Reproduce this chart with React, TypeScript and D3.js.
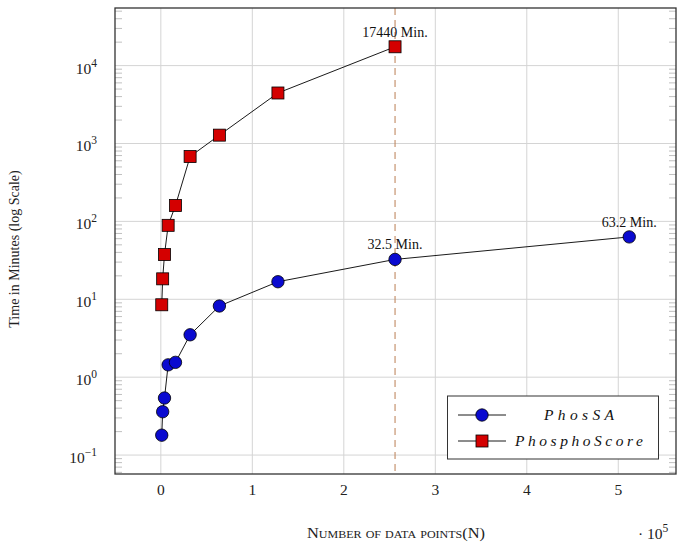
import React from 'react';
import * as d3 from 'd3';

// Data: number of data points (N) and run time in minutes
const nPoints = [1000, 2000, 4000, 8000, 16000, 32000, 64000, 128000, 256000, 512000];
const phosSATimes = [0.18, 0.36, 0.54, 1.44, 1.55, 3.5, 8.2, 16.8, 32.5, 63.2];
const phosphoScoreTimes = [8.5, 18.3, 37.5, 89, 160, 680, 1280, 4450, 17440];
const xTickValues = [0, 1, 2, 3, 4, 5];
const yTickExponents = [-1, 0, 1, 2, 3, 4];
const annotations = [
  { series: 'score', index: 8, label: '17440 Min.' },
  { series: 'sa', index: 8, label: '32.5 Min.' },
  { series: 'sa', index: 9, label: '63.2 Min.' },
];
const markerLine = 256000;
const legendLabels = ['PhosSA', 'PhosphoScore'];

const W = 685;
const H = 547;
const L = 115, R = 676, T = 8, B = 474;
const BLUE = '#0a0ad0';
const RED = '#d40000';
const GRID = '#d4d4d4';
const SERIF = '"Liberation Serif", "DejaVu Serif", serif';

export default function App() {
  const x = d3.scaleLinear().domain([-0.501, 5.631]).range([L, R]);
  const y = d3.scaleLog().domain([Math.pow(10, -1.243), Math.pow(10, 4.7395)]).range([B, T]);
  const xs = (n: number) => x(n / 1e5);

  const saPts = phosSATimes.map((v, i) => [xs(nPoints[i]), y(v)] as [number, number]);
  const scPts = phosphoScoreTimes.map((v, i) => [xs(nPoints[i]), y(v)] as [number, number]);
  const line = d3.line();

  const minor: number[] = [];
  for (let e = -2; e <= 4; e++) {
    for (let k = 2; k <= 9; k++) {
      const v = k * Math.pow(10, e);
      const py = y(v);
      if (py > T + 0.5 && py < B - 0.5) minor.push(py);
    }
  }

  const square = (cx: number, cy: number, key: string | number) => (
    <rect key={key} x={cx - 6} y={cy - 6} width={12} height={12} fill={RED} stroke="#000" strokeWidth={0.8} />
  );
  const circle = (cx: number, cy: number, key: string | number) => (
    <circle key={key} cx={cx} cy={cy} r={6.2} fill={BLUE} stroke="#000" strokeWidth={0.8} />
  );

  const lx = 447.5, ly = 396, lw = 211, lh = 63;

  return (
    <svg width={W} height={H} style={{ position: 'absolute', left: 0, top: 0, background: '#fff' }} fontFamily={SERIF}>
      {/* grid */}
      {xTickValues.map((t) => (
        <line key={'gx' + t} x1={x(t)} x2={x(t)} y1={T} y2={B} stroke={GRID} strokeWidth={1} />
      ))}
      {yTickExponents.map((e) => (
        <line key={'gy' + e} x1={L} x2={R} y1={y(Math.pow(10, e))} y2={y(Math.pow(10, e))} stroke={GRID} strokeWidth={1} />
      ))}
      {/* minor ticks */}
      {minor.map((py, i) => (
        <g key={'m' + i}>
          <line x1={L} x2={L + 7} y1={py} y2={py} stroke="#b0b0b0" strokeWidth={0.8} />
          <line x1={R - 7} x2={R} y1={py} y2={py} stroke="#b0b0b0" strokeWidth={0.8} />
        </g>
      ))}
      {/* dashed marker line */}
      <line x1={xs(markerLine)} x2={xs(markerLine)} y1={T} y2={B} stroke="#c08a62" strokeWidth={1.1} strokeDasharray="7,5" />
      {/* series lines */}
      <path d={line(scPts) || ''} fill="none" stroke="#000" strokeWidth={0.9} />
      <path d={line(saPts) || ''} fill="none" stroke="#000" strokeWidth={0.9} />
      {scPts.map((p, i) => square(p[0], p[1], 's' + i))}
      {saPts.map((p, i) => circle(p[0], p[1], 'c' + i))}
      {/* annotations */}
      {annotations.map((a, i) => {
        const p = a.series === 'score' ? scPts[a.index] : saPts[a.index];
        return (
          <text key={'a' + i} x={p[0]} y={p[1] - 10} textAnchor="middle" fontSize={14} fill="#111">
            {a.label}
          </text>
        );
      })}
      {/* frame */}
      <rect x={L} y={T} width={R - L} height={B - T} fill="none" stroke="#333" strokeWidth={1.3} />
      {/* x tick labels */}
      {xTickValues.map((t) => (
        <text key={'xt' + t} x={x(t)} y={495} textAnchor="middle" fontSize={15.5} fill="#222">{t}</text>
      ))}
      {/* y tick labels */}
      {yTickExponents.map((e) => (
        <text key={'yt' + e} x={97} y={y(Math.pow(10, e)) + 8} textAnchor="end" fontSize={15.5} fill="#222">
          10<tspan fontSize={11.5} dy={-7}>{e < 0 ? '\u2212' + Math.abs(e) : String(e)}</tspan>
        </text>
      ))}
      {/* axis titles */}
      <text x={396} y={538} textAnchor="middle" fontSize={15} fontVariant="small-caps" fill="#222"
        textLength={178} lengthAdjust="spacingAndGlyphs">
        Number of data points(N)
      </text>
      <text x={638} y={539} fontSize={15.5} fill="#222">
        {'\u00b7 10'}<tspan fontSize={11.5} dy={-7}>5</tspan>
      </text>
      <text transform={`translate(19,${(T + B) / 2 + 8}) rotate(-90)`} textAnchor="middle" fontSize={14} fill="#222">
        Time in Minutes (log Scale)
      </text>
      {/* legend */}
      <rect x={lx} y={ly} width={lw} height={lh} fill="#fff" stroke="#333" strokeWidth={1} />
      {legendLabels.map((lab, i) => {
        const cy = ly + 19 + i * 26;
        return (
          <g key={'lg' + i}>
            <line x1={458} x2={506} y1={cy} y2={cy} stroke="#000" strokeWidth={0.9} />
            {i === 0 ? circle(482, cy, 'lc') : square(482, cy, 'ls')}
            <text x={579} y={cy + 5} textAnchor="middle" fontSize={15.5} fontStyle="italic" fill="#111"
              textLength={i === 0 ? 70 : 128} lengthAdjust="spacing">
              {lab}
            </text>
          </g>
        );
      })}
    </svg>
  );
}
